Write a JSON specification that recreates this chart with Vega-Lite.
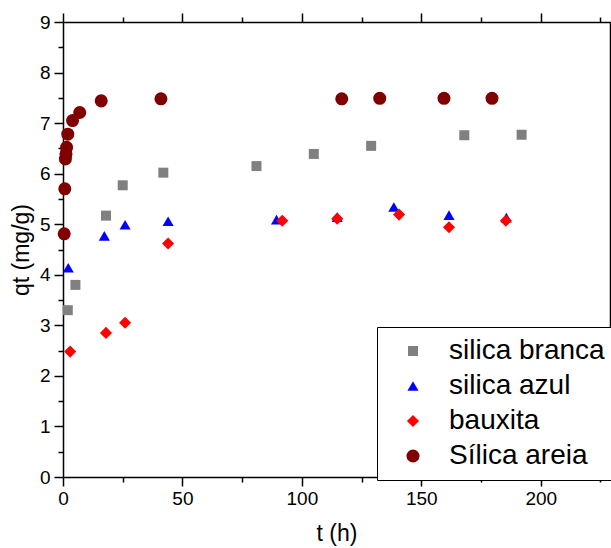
{
  "$schema": "https://vega.github.io/schema/vega-lite/v6.json",
  "width": 547,
  "height": 455,
  "autosize": {"type": "none"},
  "padding": {"left": 63, "top": 22, "right": 1, "bottom": 71},
  "background": "white",
  "config": {
    "view": {"stroke": null},
    "font": "Liberation Sans",
    "axis": {
      "domainColor": "black", "domainWidth": 1.5, "tickColor": "black", "tickWidth": 1.5,
      "labelFont": "Liberation Sans", "labelFontSize": 19, "labelColor": "black",
      "titleFont": "Liberation Sans", "titleFontSize": 23, "titleFontWeight": "normal", "titleColor": "black",
      "grid": false, "labelFlush": false, "labelOverlap": false
    }
  },
  "data": {"values": [
    {"series": "silica branca", "t": 2, "qt": 3.30},
    {"series": "silica branca", "t": 5.2, "qt": 3.80},
    {"series": "silica branca", "t": 18, "qt": 5.17},
    {"series": "silica branca", "t": 25, "qt": 5.77},
    {"series": "silica branca", "t": 42, "qt": 6.02},
    {"series": "silica branca", "t": 81, "qt": 6.15},
    {"series": "silica branca", "t": 105, "qt": 6.39},
    {"series": "silica branca", "t": 129, "qt": 6.55},
    {"series": "silica branca", "t": 168, "qt": 6.76},
    {"series": "silica branca", "t": 192, "qt": 6.77},
    {"series": "silica azul", "t": 2.2, "qt": 4.14},
    {"series": "silica azul", "t": 17.3, "qt": 4.77},
    {"series": "silica azul", "t": 26, "qt": 4.99},
    {"series": "silica azul", "t": 44, "qt": 5.06},
    {"series": "silica azul", "t": 89.4, "qt": 5.09},
    {"series": "silica azul", "t": 114.8, "qt": 5.14},
    {"series": "silica azul", "t": 138.5, "qt": 5.34},
    {"series": "silica azul", "t": 161.6, "qt": 5.18},
    {"series": "silica azul", "t": 185.6, "qt": 5.13},
    {"series": "bauxita", "t": 3, "qt": 2.48},
    {"series": "bauxita", "t": 18, "qt": 2.85},
    {"series": "bauxita", "t": 26, "qt": 3.05},
    {"series": "bauxita", "t": 44, "qt": 4.62},
    {"series": "bauxita", "t": 91.8, "qt": 5.07},
    {"series": "bauxita", "t": 114.8, "qt": 5.11},
    {"series": "bauxita", "t": 140.7, "qt": 5.19},
    {"series": "bauxita", "t": 161.6, "qt": 4.94},
    {"series": "bauxita", "t": 185.4, "qt": 5.07},
    {"series": "Sílica areia", "t": 0.5, "qt": 4.81},
    {"series": "Sílica areia", "t": 0.75, "qt": 5.70},
    {"series": "Sílica areia", "t": 1, "qt": 6.29},
    {"series": "Sílica areia", "t": 1.25, "qt": 6.39},
    {"series": "Sílica areia", "t": 1.5, "qt": 6.52},
    {"series": "Sílica areia", "t": 2, "qt": 6.78},
    {"series": "Sílica areia", "t": 4, "qt": 7.05},
    {"series": "Sílica areia", "t": 7, "qt": 7.21},
    {"series": "Sílica areia", "t": 16, "qt": 7.44},
    {"series": "Sílica areia", "t": 41, "qt": 7.48},
    {"series": "Sílica areia", "t": 116.7, "qt": 7.48},
    {"series": "Sílica areia", "t": 132.6, "qt": 7.49},
    {"series": "Sílica areia", "t": 159.5, "qt": 7.49},
    {"series": "Sílica areia", "t": 179.6, "qt": 7.49}
  ]},
  "layer": [
    {
      "mark": {"type": "point", "filled": true, "opacity": 1, "strokeWidth": 0},
      "encoding": {
        "x": {
          "field": "t", "type": "quantitative",
          "scale": {"domain": [0, 229], "nice": false, "zero": false},
          "axis": {
            "orient": "bottom", "title": "t (h)", "format": "d",
            "values": [0, 25, 50, 75, 100, 125, 150, 175, 200, 225],
            "labelExpr": "datum.value % 50 === 0 ? datum.label : ''",
            "tickSize": {"condition": {"test": "datum.value % 50 === 0", "value": 9}, "value": 5},
            "labelPadding": 3, "titlePadding": 14
          }
        },
        "y": {
          "field": "qt", "type": "quantitative",
          "scale": {"domain": [0, 9], "nice": false, "zero": false},
          "axis": {
            "orient": "left", "title": "qt (mg/g)", "format": "~g",
            "values": [0, 0.5, 1, 1.5, 2, 2.5, 3, 3.5, 4, 4.5, 5, 5.5, 6, 6.5, 7, 7.5, 8, 8.5, 9],
            "labelExpr": "datum.value % 1 === 0 ? datum.label : ''",
            "tickSize": {"condition": {"test": "datum.value % 1 === 0", "value": 9}, "value": 5},
            "labelPadding": 4, "titlePadding": 6
          }
        },
        "color": {
          "field": "series", "type": "nominal",
          "scale": {"domain": ["silica branca", "silica azul", "bauxita", "Sílica areia"], "range": ["#808080", "#0000ff", "#ff0000", "#800000"]},
          "legend": {
            "orient": "none", "legendX": 314, "legendY": 305, "title": null,
            "strokeColor": "black", "fillColor": "white", "padding": 10,
            "labelFontSize": 28, "labelFont": "Liberation Sans", "labelColor": "black",
            "symbolOffset": 12, "labelOffset": 22, "rowPadding": 7, "labelLimit": 400,
            "symbolStrokeWidth": 0
          }
        },
        "shape": {
          "field": "series", "type": "nominal",
          "scale": {"domain": ["silica branca", "silica azul", "bauxita", "Sílica areia"], "range": ["square", "triangle-up", "diamond", "circle"]}
        },
        "size": {
          "field": "series", "type": "nominal",
          "scale": {"domain": ["silica branca", "silica azul", "bauxita", "Sílica areia"], "range": [100, 170, 150, 85]}
        }
      }
    },
    {
      "mark": {"type": "point", "opacity": 0},
      "encoding": {
        "x": {
          "field": "t", "type": "quantitative",
          "axis": {
            "orient": "top", "title": null, "labels": false,
            "values": [0, 25, 50, 75, 100, 125, 150, 175, 200, 225],
            "tickSize": {"condition": {"test": "datum.value % 50 === 0", "value": 9}, "value": 5}
          }
        },
        "y": {
          "field": "qt", "type": "quantitative",
          "axis": {
            "orient": "right", "title": null, "labels": false,
            "values": [0, 1, 2, 3, 4, 5, 6, 7, 8, 9]
          }
        }
      }
    }
  ],
  "resolve": {"axis": {"x": "independent", "y": "independent"}}
}
